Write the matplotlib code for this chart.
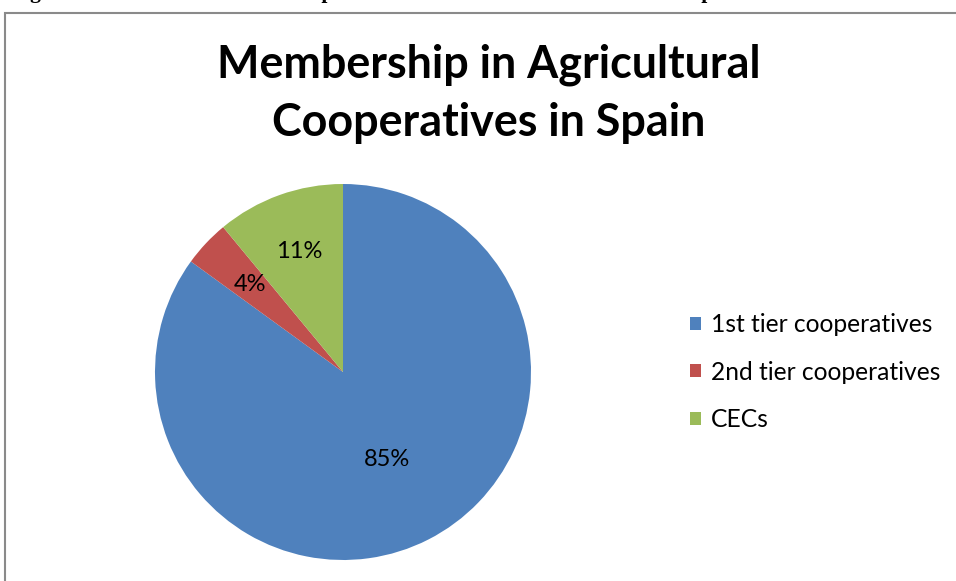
import matplotlib
matplotlib.use("Agg")
import matplotlib.pyplot as plt
from matplotlib.patches import Patch, Rectangle
import numpy as np

W, H = 956, 581
dpi = 100

categories = ["1st tier cooperatives", "2nd tier cooperatives", "CECs"]
shares = [85, 4, 11]
colors = ["#4F81BD", "#C0504D", "#9BBB59"]
label_dist = [0.52, 0.68, 0.68]

title_lines = ["Membership in Agricultural", "Cooperatives in Spain"]
caption = "Figure 2: Structure of Membership of the Three Tiers of the Federated Cooperatives"


def px(x, y):
    # pixel coords (top-left origin) -> figure fraction
    return x / W, 1 - y / H


fig = plt.figure(figsize=(W / dpi, H / dpi), dpi=dpi)
fig.patch.set_facecolor("white")

# caption of the document, mostly above the top edge
cx, cy = px(11, -2.2)
fig.text(cx, cy, caption, family="Liberation Serif", weight="bold",
         fontsize=21.5 * 72 / dpi, va="baseline", ha="left", color="black")

# chart area border
fig.patches.append(Rectangle(px(5, 700), 1200 / W, (700 - 13) / H,
                             transform=fig.transFigure, fill=False,
                             edgecolor="#8a8a8a", linewidth=1.5))

for line, base in zip(title_lines, [78, 136]):
    tx, ty = px(489, base)
    fig.text(tx, ty, line, family="Lato", weight="bold", fontsize=32.3,
             ha="center", va="baseline", color="black")

# pie: centre (343, 372), radius 188 px
r = 188
x0, y0 = px(343 - r, 372 + r)
ax = fig.add_axes([x0, y0, 2 * r / W, 2 * r / H])
wedges, _, autotexts = ax.pie(shares, colors=colors, startangle=90,
                              counterclock=False, radius=1,
                              autopct="%1.0f%%", pctdistance=0.6,
                              textprops=dict(family="Lato", fontsize=17,
                                             color="black"))
for w, t, d in zip(wedges, autotexts, label_dist):
    ang = np.deg2rad((w.theta1 + w.theta2) / 2)
    t.set_position((d * np.cos(ang), d * np.sin(ang)))
ax.set_xlim(-1, 1)
ax.set_ylim(-1, 1)
ax.set_aspect("equal")
ax.axis("off")

handles = [Patch(facecolor=c, edgecolor="none") for c in colors]
lx, ly = px(690, 372)
fig.legend(handles, categories, loc="center left", bbox_to_anchor=(lx, ly),
           frameon=False, prop=dict(family="Lato", size=17.7),
           handlelength=0.45, handleheight=0.45, handletextpad=0.4,
           labelspacing=1.0, borderpad=0, borderaxespad=0)

fig.savefig("out.png", dpi=dpi)
